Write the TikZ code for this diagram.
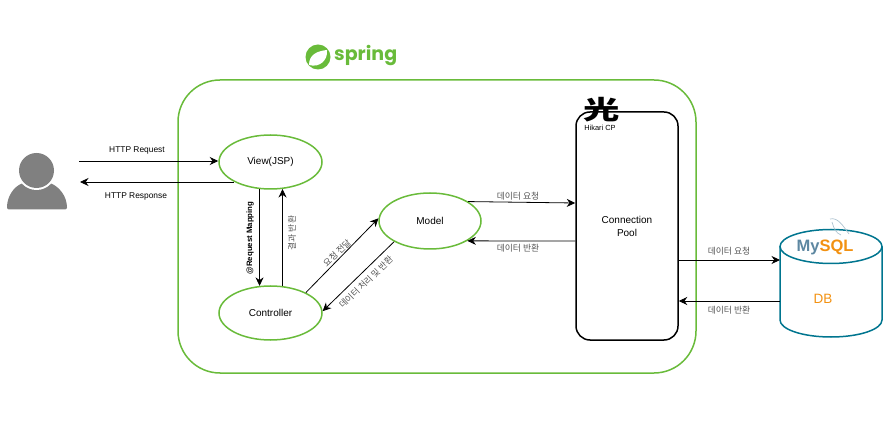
\documentclass[tikz,border=0pt]{standalone}
\usepackage{fontspec}
\setmainfont{Liberation Sans}
\newfontfamily\cjk{Noto Sans CJK KR}
\newfontfamily\logofont{Poppins}
\usetikzlibrary{arrows.meta,shapes.geometric}

\definecolor{springgreen}{HTML}{69BB3A}
\definecolor{dbblue}{HTML}{00758F}
\definecolor{dbslate}{HTML}{5D87A1}
\definecolor{dborange}{HTML}{F29111}
\definecolor{labelgray}{HTML}{555555}

\tikzset{
    flow/.style={draw=black, line width=0.8pt, -{Stealth[length=8.5pt,width=8pt]}},
    comp/.style={draw=springgreen, line width=1.5pt, ellipse, minimum width=103pt, minimum height=54pt, inner sep=0pt, font=\fontsize{10}{11}\selectfont},
    lbl/.style={inner sep=0pt, font=\fontsize{8.4}{10}\selectfont},
    kor/.style={inner sep=0pt, text=labelgray, font=\cjk\fontsize{8.8}{10}\selectfont},
}

\begin{document}
\begin{tikzpicture}[x=1pt, y=-1pt]
\useasboundingbox (0, 0) rectangle (896, 427);

% spring boundary
\draw[springgreen, line width=1.5pt, rounded corners=42pt] (178, 80) rectangle (696, 373);

% spring logo
\fill[springgreen] (318, 57) circle (12.5pt);
\fill[white] (309, 65) .. controls (309, 54) and (318, 51) .. (327, 50) .. controls (328, 60) and (320, 68) .. (309, 65) -- cycle;
\node[inner sep=0pt, anchor=west, text=springgreen, font=\logofont\bfseries\fontsize{19}{21}\selectfont] (springlogo) at (334, 56) {spring};

% user
\fill[gray, rounded corners=2pt] (7, 209.5) .. controls (7, 196) and (14, 187) .. (23, 183) -- (50, 183) .. controls (59, 187) and (67, 196) .. (67, 209.5) -- cycle;
\fill[white] (36.5, 170.5) circle (19.5pt);
\fill[gray] (36.5, 170.5) circle (17.5pt);
\coordinate (userin) at (79, 161);
\coordinate (userout) at (80, 182);

% components
\node[comp] (view) at (270.5, 162) {View(JSP)};
\node[comp] (controller) at (270.5, 313) {Controller};
\node[comp, minimum width=102pt, minimum height=56pt] (model) at (430, 221) {Model};

% connection pool
\node[draw=black, line width=1.5pt, rounded corners=14pt, minimum width=102pt, minimum height=228pt, inner sep=0pt, align=center, font=\fontsize{10}{13}\selectfont] (pool) at (627, 226) {Connection\\Pool};
\node[inner sep=0pt, font=\cjk\bfseries\fontsize{26}{26}\selectfont] (hikari) at (602, 110) {\scalebox{1.4}[1]{光}};
\node[inner sep=0pt, font=\fontsize{7.4}{8}\selectfont] (hikarilabel) at (600, 128) {Hikari CP};

% database
\draw[dbblue, line width=1.5pt] (780, 246.5) -- (780, 320) arc[start angle=180, end angle=360, x radius=51, y radius=-17] -- (882, 246.5);
\draw[dbblue, line width=1.5pt] (831, 246.5) ellipse[x radius=51, y radius=17];
\node[inner sep=0pt, font=\bfseries\fontsize{16.5}{18}\selectfont] (mysql) at (825, 247) {\textcolor{dbslate}{My}\textcolor{dborange}{SQL}};
\draw[dbslate!50!white, line width=0.7pt] (830, 219) .. controls (838, 217) and (843, 226) .. (849, 234) (832, 222) .. controls (834, 229) and (836, 233) .. (841, 235);
\node[inner sep=0pt, text=dborange, font=\fontsize{13.5}{15}\selectfont] (db) at (823, 299) {DB};
\coordinate (dbin) at (780, 260);
\coordinate (dbout) at (780, 301);

% connectors
\draw[flow] (userin) -- (view.west |- userin);
\draw[flow] (view.south west |- userout) -- (userout);
\draw[flow] (view.248) -- (controller.112);
\draw[flow] (controller.66) -- (view.294);
\draw[flow] (controller.30) -- (model.177);
\draw[flow] (model.210) -- (controller.2);
\draw[flow] (model.27) -- (pool.west |- 0, 203);
\draw[flow] (pool.west |- 0, 241) -- (model.332);
\draw[flow] (pool.east |- dbin) -- (dbin);
\draw[flow] (dbout) -- (pool.east |- dbout);

% labels
\node[lbl] (reqlabel) at (137, 150) {HTTP Request};
\node[lbl] (reslabel) at (136, 196) {HTTP Response};
\node[lbl, rotate=90, font=\bfseries\fontsize{7.8}{9}\selectfont] (maplabel) at (250, 238) {@Request Mapping};
\node[kor, rotate=90] (resultlabel) at (292, 233) {결과 반환};
\node[kor, rotate=44] (sendlabel) at (337, 253) {요청 전달};
\node[kor, rotate=44] (proclabel) at (366, 282) {데이터 처리 및 반환};
\node[kor] (datareq) at (518, 196) {데이터 요청};
\node[kor] (datares) at (518, 248) {데이터 반환};
\node[kor] (dbreq) at (729, 251) {데이터 요청};
\node[kor] (dbres) at (729, 310) {데이터 반환};

\end{tikzpicture}
\end{document}
